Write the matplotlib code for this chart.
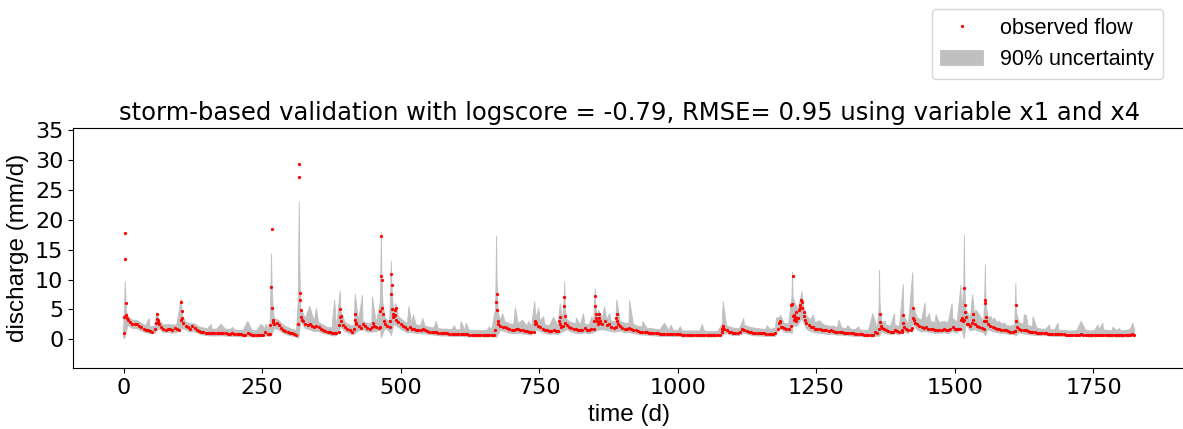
import numpy as np
import matplotlib
matplotlib.use("Agg")
import matplotlib.pyplot as plt

# observed flow (mm/d), read every 4 days from day 0 to day 1824
obs_base = [
    1.1, 6.1, 3.2, 2.9, 2.5, 2.6, 2.6, 2.2, 2.0, 1.8, 1.6, 1.5, 1.4, 1.3, 1.8, 3.4, 2.6, 2.1, 1.7, 1.6, 1.8, 1.7, 1.6, 1.9, 1.7,
    1.6, 6.2, 2.8, 2.3, 2.0, 1.8, 2.3, 1.9, 1.6, 1.4, 1.3, 1.2, 1.1, 1.1, 1.1, 1.0, 1.0, 1.0, 1.0, 1.1, 1.0, 1.0, 0.95, 0.9, 1.0,
    0.9, 0.9, 0.85, 0.85, 0.8, 0.8, 1.0, 0.9, 0.8, 0.75, 0.75, 0.75, 0.8, 0.8, 1.2, 0.9, 0.9, 5.3, 2.6, 2.8, 2.4, 1.9, 1.6, 1.4, 1.2,
    1.1, 1.0, 0.9, 0.8, 27.2, 4.9, 3.0, 2.6, 2.4, 2.5, 2.2, 2.0, 2.2, 2.0, 1.8, 1.6, 1.4, 1.3, 1.2, 1.1, 1.0, 1.0, 1.3, 3.9, 2.4,
    2.0, 1.7, 1.5, 1.3, 1.8, 2.6, 2.2, 1.9, 2.5, 2.2, 1.9, 1.7, 2.0, 2.3, 2.0, 1.9, 10.6, 4.2, 2.6, 2.2, 2.0, 9.0, 3.9, 3.2, 2.9,
    2.6, 2.3, 2.0, 1.8, 2.1, 1.8, 1.7, 1.6, 1.5, 1.5, 1.7, 1.5, 1.4, 1.3, 1.3, 1.2, 1.2, 1.1, 1.1, 1.0, 1.0, 1.0, 0.95, 0.9, 0.9,
    0.9, 0.9, 0.9, 0.85, 0.85, 0.85, 0.8, 0.8, 0.8, 0.8, 0.8, 0.8, 0.8, 0.8, 0.8, 0.8, 0.8, 0.8, 6.3, 2.5, 2.3, 2.0, 2.1, 1.9, 1.7,
    1.6, 1.5, 1.8, 1.7, 1.6, 1.5, 1.4, 1.4, 1.3, 1.3, 1.3, 2.8, 2.3, 2.0, 1.8, 1.6, 1.5, 1.4, 1.4, 1.5, 1.4, 1.4, 2.6, 2.2, 3.9,
    2.4, 2.1, 1.9, 1.8, 1.7, 1.6, 1.5, 1.5, 1.9, 1.6, 1.5, 1.7, 1.8, 4.2, 2.6, 2.7, 2.5, 3.0, 2.4, 2.5, 2.1, 1.9, 2.0, 2.6, 2.2,
    1.9, 1.8, 1.7, 1.9, 1.8, 1.6, 1.5, 1.4, 1.3, 1.3, 1.2, 1.2, 1.1, 1.1, 1.0, 1.0, 1.0, 0.95, 0.9, 0.95, 0.9, 0.9, 0.9, 0.85, 0.85,
    0.85, 0.85, 0.8, 0.8, 0.8, 0.8, 0.8, 0.8, 0.8, 0.8, 0.75, 0.8, 0.75, 0.75, 0.75, 0.75, 0.75, 0.75, 0.75, 0.8, 1.8, 1.7, 1.5, 1.3, 1.2,
    1.1, 1.1, 1.1, 1.2, 1.7, 1.6, 1.4, 1.3, 1.2, 1.1, 1.1, 1.0, 1.0, 1.0, 1.0, 0.95, 0.95, 0.9, 0.9, 1.0, 1.8, 2.9, 2.0, 1.9, 1.8,
    1.8, 2.2, 3.9, 3.8, 3.6, 5.2, 6.3, 3.9, 2.7, 2.4, 2.1, 2.0, 1.8, 1.7, 1.7, 1.6, 1.5, 1.5, 1.4, 1.5, 1.4, 1.3, 1.2, 1.3, 1.2,
    1.1, 1.1, 1.0, 1.0, 1.0, 0.9, 0.9, 0.9, 0.85, 0.8, 0.8, 0.8, 0.75, 0.8, 1.2, 1.0, 4.3, 1.9, 1.7, 1.5, 1.4, 1.3, 1.3, 1.5, 1.4,
    1.3, 1.3, 2.0, 1.7, 1.5, 1.5, 5.3, 2.8, 2.5, 2.3, 2.0, 1.9, 2.1, 1.8, 1.8, 1.7, 1.6, 1.6, 1.6, 1.6, 1.8, 1.6, 1.5, 1.7, 2.1,
    1.8, 1.7, 1.7, 3.2, 3.3, 3.8, 2.5, 2.3, 4.2, 2.6, 2.3, 2.1, 1.9, 1.8, 3.7, 2.6, 2.3, 2.1, 1.9, 1.8, 1.7, 1.6, 1.5, 1.5, 1.4,
    1.3, 1.2, 1.4, 2.1, 1.8, 1.6, 1.5, 1.6, 1.4, 1.3, 1.2, 1.2, 1.1, 1.1, 1.0, 1.0, 1.0, 0.95, 0.95, 0.9, 0.9, 0.9, 0.85, 0.85, 0.85,
    0.8, 0.8, 0.8, 0.8, 0.8, 0.8, 0.8, 0.85, 0.8, 0.8, 0.8, 0.75, 0.75, 0.75, 0.8, 0.8, 0.8, 0.8, 0.8, 0.75, 0.75, 0.75, 0.75, 0.75, 0.75,
    0.75, 0.75, 0.75, 0.8, 0.8, 0.9, 0.8,
]

# observed flow on storm days (day, value)
storm_day = [
    0, 1, 2, 3, 4, 5, 6,
    56, 58, 60, 61, 62, 63,
    103, 104, 105, 106,
    265, 266, 267, 268, 269, 270,
    315, 316, 317, 318, 319, 320, 321, 322,
    389, 390, 391, 392, 393,
    416, 417, 418, 419, 450,
    462, 463, 464, 465, 466, 467, 468, 470,
    481, 482, 483, 484, 485, 486, 487, 489, 490, 491, 492,
    671, 672, 673, 674, 675,
    742, 743, 744,
    786, 787, 789, 794, 795, 796, 797,
    849, 850, 851, 852, 853, 855, 856, 857, 858, 859, 860,
    889, 890, 891,
    1079, 1080, 1081, 1082,
    1183, 1185, 1187,
    1205, 1206, 1207, 1208, 1209, 1210, 1211, 1213, 1214, 1216, 1217, 1219, 1221, 1222, 1224, 1225, 1227, 1229,
    1363, 1364, 1365, 1366,
    1405, 1406, 1407, 1408,
    1423, 1424, 1425, 1426,
    1510, 1511, 1513, 1514, 1517, 1518, 1519, 1520, 1521,
    1531, 1532, 1533,
    1553, 1554, 1555, 1556, 1557,
    1609, 1610, 1611, 1612,
]
storm_q = [
    1.1, 3.8, 13.4, 17.7, 6.1, 4.0, 3.6,
    1.8, 2.7, 3.4, 4.2, 3.2, 2.9,
    3.3, 6.2, 4.7, 3.5,
    2.4, 8.7, 18.4, 5.3, 3.3, 2.9,
    2.6, 27.2, 29.4, 7.7, 6.6, 4.9, 3.8, 3.3,
    2.4, 3.7, 5.1, 3.9, 3.0,
    1.8, 4.2, 3.2, 2.8, 2.7,
    2.1, 4.7, 10.6, 17.3, 9.9, 5.3, 4.2, 3.0,
    3.1, 7.5, 10.9, 9.0, 5.1, 4.2, 3.8, 4.0, 4.9, 5.3, 3.2,
    1.5, 6.3, 7.6, 4.9, 3.0,
    2.6, 3.0, 2.8,
    3.0, 3.7, 2.1, 5.5, 7.0, 3.9, 2.7,
    3.0, 5.6, 7.2, 4.2, 3.5, 3.0, 2.6, 4.2, 3.5, 3.1, 2.7,
    3.5, 4.3, 3.0,
    1.2, 1.8, 2.2, 1.9,
    2.7, 3.1, 2.1,
    5.7, 5.9, 10.6, 3.9, 3.2, 4.1, 3.5, 4.6, 3.1, 3.6, 3.5, 4.9, 5.7, 6.5, 6.3, 5.3, 4.6, 3.2,
    1.8, 4.3, 2.9, 2.2,
    1.6, 4.0, 2.7, 2.0,
    1.9, 5.3, 3.5, 3.2,
    1.8, 3.3, 3.6, 3.0, 8.6, 5.8, 4.6, 3.8, 2.6,
    2.8, 4.2, 3.2,
    3.0, 6.5, 6.1, 3.7, 3.0,
    1.4, 5.7, 3.0, 2.1,
]

# 90% band, upper edge read every 8 days
hi_base = [
    1.8, 3.8, 3.2, 3.2, 2.7, 2.3, 2.1, 2.2, 3.2, 2.4, 2.5, 2.4, 2.4, 4.0, 2.9, 2.6, 2.6, 2.1, 1.9, 1.8, 1.7, 1.7, 1.8, 1.7, 1.6,
    1.6, 1.5, 1.5, 1.6, 1.5, 1.4, 1.6, 1.8, 1.7, 3.5, 3.2, 2.4, 2.0, 1.7, 1.5, 4.6, 3.5, 3.5, 3.0, 2.8, 2.4, 2.0, 1.9, 1.8, 4.5,
    2.8, 2.4, 2.2, 3.0, 3.0, 2.7, 2.7, 2.8, 9.0, 3.5, 3.0, 4.5, 3.8, 3.2, 2.6, 2.6, 2.4, 2.3, 2.2, 2.0, 1.9, 1.8, 1.7, 1.7, 1.6,
    1.6, 1.6, 1.5, 1.5, 1.5, 1.5, 1.5, 1.5, 1.5, 9.0, 3.2, 3.0, 2.6, 2.5, 2.6, 2.4, 2.2, 2.1, 3.5, 3.0, 2.5, 2.2, 2.3, 2.2, 3.0,
    3.3, 2.8, 2.6, 2.4, 2.6, 2.4, 2.6, 3.6, 3.5, 3.3, 3.0, 3.0, 3.0, 2.7, 2.7, 2.5, 2.2, 2.1, 1.9, 1.8, 1.7, 1.6, 1.6, 1.5, 1.5,
    1.5, 1.4, 1.4, 1.4, 1.4, 1.4, 1.4, 1.3, 1.3, 1.3, 2.5, 2.3, 2.0, 1.8, 1.9, 2.4, 2.1, 1.9, 1.8, 1.7, 1.7, 1.6, 1.7, 3.6, 2.7,
    2.6, 7.0, 5.0, 8.0, 4.0, 3.2, 2.8, 2.6, 2.4, 2.2, 2.2, 2.0, 1.9, 1.8, 1.7, 1.6, 1.6, 1.5, 1.5, 1.5, 1.8, 2.8, 2.4, 2.2, 2.4,
    2.1, 4.0, 2.4, 11.2, 3.6, 3.2, 3.2, 3.0, 2.8, 2.8, 3.0, 2.8, 3.5, 2.9, 4.0, 5.0, 3.6, 3.8, 3.3, 3.0, 3.6, 3.1, 2.8, 2.6, 2.4,
    2.2, 2.4, 2.8, 2.5, 2.3, 2.1, 1.9, 1.7, 1.7, 1.6, 1.6, 1.5, 1.5, 1.4, 1.4, 1.5, 3.0, 1.5, 1.4, 1.5, 1.6, 1.6, 1.5, 1.4, 1.5,
    1.4, 1.5, 1.6, 1.6,
]
hi_spike_day = [
    2, 3, 4, 5, 46, 60, 104, 106, 158, 176, 197, 224, 248, 257,
    265, 266, 267, 268, 270, 315, 316, 317, 318, 319, 321, 336, 348, 381, 391, 393,
    418, 431, 449, 463, 464, 465, 466, 468, 482, 483, 484, 486, 491,
    515, 523, 540, 564, 597, 609, 618, 660, 671, 672, 673, 674, 676, 684, 707, 720, 731,
    742, 749, 758, 776, 788, 795, 796, 797, 817, 830, 845, 850, 851, 852, 857, 868, 877,
    890, 913, 937, 976, 988, 1005, 1044, 1082, 1119, 1161, 1172, 1178, 1185,
    1206, 1207, 1208, 1212, 1218, 1222, 1224, 1226, 1244, 1256, 1291, 1307, 1327, 1352,
    1363, 1364, 1365, 1375, 1391, 1407, 1408, 1424, 1425, 1446, 1454, 1466, 1495,
    1511, 1513, 1516, 1517, 1518, 1519, 1532, 1538, 1544, 1554, 1555, 1556, 1565, 1571, 1580, 1590,
    1610, 1611, 1625, 1629, 1641, 1671, 1686, 1728, 1758, 1767, 1785, 1797, 1821,
]
hi_spike_q = [
    6.0, 9.7, 7.5, 4.8, 3.5, 4.5, 6.8, 4.0, 2.5, 2.5, 2.0, 3.0, 2.5, 2.5,
    5.0, 9.5, 14.3, 9.0, 5.0, 6.0, 14.0, 23.0, 13.0, 8.0, 5.0, 5.5, 5.2, 6.6, 8.1, 4.5,
    7.6, 7.4, 7.1, 6.0, 10.0, 17.9, 11.0, 6.0, 8.0, 13.1, 9.5, 6.0, 6.0,
    5.5, 4.1, 3.5, 3.0, 2.3, 3.0, 2.7, 2.1, 5.0, 9.5, 17.3, 9.5, 4.5, 4.3, 5.3, 3.2, 3.0,
    6.3, 5.2, 3.8, 3.7, 6.0, 7.0, 9.6, 5.0, 3.6, 4.3, 3.8, 6.5, 8.5, 5.5, 4.9, 5.5, 4.3,
    6.6, 6.5, 3.0, 2.7, 2.4, 2.1, 2.5, 6.3, 3.5, 2.3, 1.9, 3.6, 4.1,
    7.0, 11.3, 7.0, 6.0, 5.5, 7.0, 8.0, 6.0, 4.1, 3.1, 3.2, 2.3, 2.1, 4.3,
    5.0, 11.6, 6.0, 3.0, 4.3, 9.2, 4.0, 11.2, 5.5, 6.1, 4.3, 4.1, 6.0,
    9.1, 5.0, 9.0, 17.5, 10.0, 6.0, 7.5, 4.9, 4.1, 8.0, 12.5, 6.0, 3.8, 3.6, 3.0, 2.7,
    9.4, 4.5, 4.1, 4.0, 3.8, 2.4, 2.7, 3.0, 2.4, 2.7, 2.0, 1.8, 2.7,
]

# 90% band, lower edge read every 8 days
lo_base = [
    0.3, 2.3, 1.8, 1.8, 1.4, 1.1, 0.9, 1.0, 1.8, 1.1, 1.2, 1.0, 1.1, 1.8, 1.6, 1.2, 1.3, 0.9, 0.7, 0.6, 0.55, 0.55, 0.6, 0.55, 0.5,
    0.5, 0.45, 0.4, 0.5, 0.4, 0.35, 0.45, 0.6, 0.5, 1.8, 1.6, 1.0, 0.7, 0.55, 0.4, 3.0, 1.8, 1.6, 1.3, 1.3, 1.0, 0.8, 0.6, 0.55, 2.0,
    1.3, 0.9, 0.8, 1.4, 1.6, 1.2, 1.2, 1.3, 1.5, 1.8, 1.3, 2.5, 2.0, 1.5, 1.1, 1.1, 1.0, 0.9, 0.9, 0.8, 0.7, 0.6, 0.55, 0.55, 0.5,
    0.5, 0.5, 0.45, 0.4, 0.4, 0.4, 0.4, 0.4, 0.4, 0.4, 1.5, 1.3, 1.0, 0.9, 1.0, 0.9, 0.8, 0.7, 1.6, 1.3, 1.0, 0.8, 0.9, 0.8, 1.2,
    1.6, 1.2, 1.0, 0.9, 1.1, 0.9, 1.1, 1.5, 1.6, 1.5, 1.3, 1.2, 1.4, 1.1, 1.1, 1.0, 0.8, 0.7, 0.7, 0.6, 0.55, 0.5, 0.5, 0.5, 0.45,
    0.45, 0.4, 0.4, 0.4, 0.4, 0.4, 0.4, 0.4, 0.4, 0.4, 0.6, 1.0, 0.7, 0.6, 0.7, 1.0, 0.8, 0.6, 0.55, 0.55, 0.5, 0.5, 0.5, 1.8, 1.2,
    1.1, 2.2, 2.2, 3.5, 1.7, 1.3, 1.1, 1.0, 0.9, 0.8, 0.8, 0.7, 0.7, 0.6, 0.55, 0.5, 0.5, 0.45, 0.4, 0.4, 0.55, 1.2, 0.9, 0.8, 0.9,
    0.8, 1.2, 0.9, 2.5, 1.6, 1.2, 1.3, 1.1, 1.0, 1.0, 1.1, 0.9, 1.3, 1.0, 1.9, 2.5, 1.4, 1.6, 1.3, 1.1, 1.6, 1.3, 1.1, 1.0, 0.9,
    0.8, 0.8, 1.1, 0.9, 0.8, 0.7, 0.65, 0.6, 0.6, 0.55, 0.5, 0.5, 0.5, 0.45, 0.45, 0.45, 0.5, 0.45, 0.4, 0.4, 0.45, 0.45, 0.4, 0.4, 0.4,
    0.4, 0.4, 0.45, 0.45,
]
lo_dip_day = [2, 267, 316, 465, 483, 673, 1207, 1364, 1517, 1555, 1610]
lo_dip_q = [0.1, 0.6, 0.1, 0.2, 0.6, 0.3, 1.0, 0.5, 0.1, 0.6, 0.5]

title = "storm-based validation with logscore = -0.79, RMSE= 0.95 using variable x1 and x4"


def merge(base, step, extra_day, extra_q):
    # put the extra (storm) readings into the regular readings, sorted by day
    days = np.arange(len(base)) * step
    keep = ~np.isin(days, extra_day)
    d = np.concatenate([days[keep], extra_day])
    q = np.concatenate([np.array(base)[keep], extra_q])
    order = np.argsort(d, kind="stable")
    return d[order], q[order]


obs_t, obs_q = merge(obs_base, 4, storm_day, storm_q)
hi_t, hi_q = merge(hi_base, 8, hi_spike_day, hi_spike_q)
lo_t, lo_q = merge(lo_base, 8, lo_dip_day, lo_dip_q)

fig = plt.figure(figsize=(11.83, 4.29), dpi=100)
ax = fig.add_axes([0.0617, 0.1415, 0.9405, 0.5595])

band = ax.fill(np.concatenate([hi_t, lo_t[::-1]]), np.concatenate([hi_q, lo_q[::-1]]),
               color='silver', lw=0.6, label='90% uncertainty')[0]
pts, = ax.plot(obs_t, obs_q, 'r.', markersize=2.6, label='observed flow')

ax.set_xlim(-91.25, 1916.25)
ax.set_ylim(-4.85, 35.3)
ax.set_yticks(range(0, 36, 5))
ax.tick_params(labelsize=16)
ax.set_xlabel('time (d)', fontsize=17.5, family='Liberation Sans')
ax.set_ylabel('discharge (mm/d)', fontsize=17.5, family='Liberation Sans')
ax.set_title(title, fontsize=17.5)

fig.legend([pts, band], ['observed flow', '90% uncertainty'], loc='upper right',
           bbox_to_anchor=(1163 / 1183, 1 - 9 / 429), borderaxespad=0,
           prop={'family': 'Liberation Sans', 'size': 15.5})

fig.savefig('out.png', dpi=100)
